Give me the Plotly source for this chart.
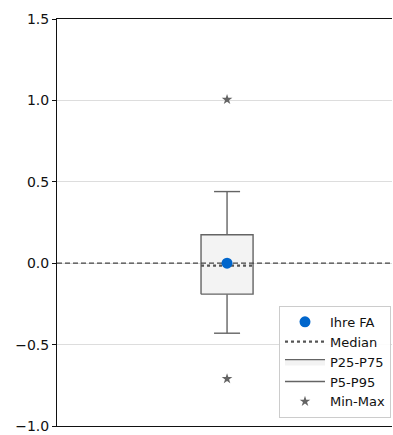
import plotly.graph_objects as go

# Data
ihre_fa = 0.0
median = -0.015
p25, p75 = -0.19, 0.175
p5, p95 = -0.43, 0.44
vmin, vmax = -0.71, 1.005
reference = 0.0
y_ticks = [-1.0, -0.5, 0.0, 0.5, 1.0, 1.5]

x_range = [-1.0, 0.97]
xc = 0.0
hw = 0.153   # half box width
cw = 0.0765  # half cap width
gray = "#646464"

fig = go.Figure()

# whiskers (P5-P95)
fig.add_trace(go.Scatter(
    x=[xc, xc, None, xc, xc, None, xc - cw, xc + cw, None, xc - cw, xc + cw],
    y=[p75, p95, None, p25, p5, None, p95, p95, None, p5, p5],
    mode="lines", line=dict(color=gray, width=1.4),
    name="P5-P95", showlegend=False, hoverinfo="skip"))

# box (P25-P75)
fig.add_trace(go.Scatter(
    x=[xc - hw, xc + hw, xc + hw, xc - hw, xc - hw],
    y=[p25, p25, p75, p75, p25],
    mode="lines", fill="toself", fillcolor="#f3f3f3",
    line=dict(color=gray, width=1.4), name="P25-P75", showlegend=False, hoverinfo="skip"))

# reference zero line
fig.add_trace(go.Scatter(
    x=x_range, y=[reference, reference], mode="lines",
    line=dict(color="#444444", width=1.3, dash="5px,3px"), showlegend=False, hoverinfo="skip"))

# median
fig.add_trace(go.Scatter(
    x=[xc - hw, xc + hw], y=[median, median], mode="lines",
    line=dict(color="#555555", width=2.2, dash="dot"), name="Median", showlegend=False))

# min-max
fig.add_trace(go.Scatter(
    x=[xc, xc], y=[vmin, vmax], mode="markers",
    marker=dict(symbol="star", size=8, color=gray), name="Min-Max", showlegend=False))

# Ihre FA
fig.add_trace(go.Scatter(
    x=[xc], y=[ihre_fa], mode="markers",
    marker=dict(symbol="circle", size=11, color="#0066cc"), name="Ihre FA", showlegend=False))

# legend entries (ordered)
fig.add_trace(go.Scatter(x=[None], y=[None], mode="markers",
    marker=dict(symbol="circle", size=11, color="#0066cc"), name="Ihre FA"))
fig.add_trace(go.Scatter(x=[None], y=[None], mode="lines",
    line=dict(color="#555555", width=2.2, dash="dot"), name="Median"))
fig.add_trace(go.Scatter(x=[None, None], y=[None, None], mode="lines", fill="toself",
    fillcolor="#f3f3f3", line=dict(color=gray, width=1.4), name="P25-P75"))
fig.add_trace(go.Scatter(x=[None], y=[None], mode="lines",
    line=dict(color=gray, width=1.4), name="P5-P95"))
fig.add_trace(go.Scatter(x=[None], y=[None], mode="markers",
    marker=dict(symbol="star", size=8, color=gray), name="Min-Max"))

fig.update_layout(
    width=393, height=435,
    margin=dict(l=57, r=1, t=19, b=7),
    plot_bgcolor="white", paper_bgcolor="white",
    font=dict(family="DejaVu Sans", size=14, color="#111111"),
    legend=dict(x=0.997, y=0.02, xanchor="right", yanchor="bottom",
                bgcolor="rgba(255,255,255,0.9)", bordercolor="#cccccc", borderwidth=1,
                font=dict(size=13), tracegroupgap=0, itemwidth=40),
    xaxis=dict(range=x_range, showgrid=False, zeroline=False, showticklabels=False,
               ticks="", showline=True, linecolor="#111111", linewidth=1, mirror=True),
    yaxis=dict(range=[-1.0, 1.5], tickvals=y_ticks, tickformat=".1f",
               showgrid=True, gridcolor="#dddddd", gridwidth=1, zeroline=False,
               ticks="outside", ticklen=4, tickcolor="#111111", ticklabeloverflow="allow",
               showline=True, linecolor="#111111", linewidth=1),
)

fig.write_html("out.html", config={"displayModeBar": False},
               post_script="document.body.style.margin='0';document.body.style.overflow='hidden';")
